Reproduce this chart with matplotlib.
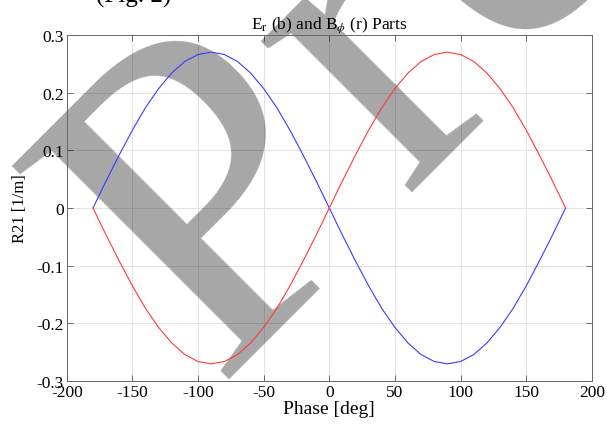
import matplotlib
matplotlib.use("Agg")
import matplotlib.pyplot as plt

# данные (шаг 10 градусов)
phase = [-180, -170, -160, -150, -140, -130, -120, -110, -100, -90,
         -80, -70, -60, -50, -40, -30, -20, -10, 0,
         10, 20, 30, 40, 50, 60, 70, 80, 90,
         100, 110, 120, 130, 140, 150, 160, 170, 180]
red_vals = [0.0, -0.047, -0.092, -0.135, -0.174, -0.207, -0.234, -0.254, -0.266, -0.270,
            -0.266, -0.254, -0.234, -0.207, -0.174, -0.135, -0.092, -0.047, 0.0,
            0.047, 0.092, 0.135, 0.174, 0.207, 0.234, 0.254, 0.266, 0.270,
            0.266, 0.254, 0.234, 0.207, 0.174, 0.135, 0.092, 0.047, 0.0]
blue_vals = [0.0, 0.047, 0.092, 0.135, 0.174, 0.207, 0.234, 0.254, 0.266, 0.270,
             0.266, 0.254, 0.234, 0.207, 0.174, 0.135, 0.092, 0.047, 0.0,
             -0.047, -0.092, -0.135, -0.174, -0.207, -0.234, -0.254, -0.266, -0.270,
             -0.266, -0.254, -0.234, -0.207, -0.174, -0.135, -0.092, -0.047, 0.0]
x_ticks = [-200, -150, -100, -50, 0, 50, 100, 150, 200]
y_ticks = [-0.3, -0.2, -0.1, 0, 0.1, 0.2, 0.3]
y_labels = ["-0.3", "-0.2", "-0.1", "0", "0.1", "0.2", "0.3"]

# буквы водяного знака и их точки привязки (пиксели)
wm_letters = ["P", "r", "e"]
wm_anchor = [(213, 381), (402, 192), (502, 60)]

plt.rcParams["font.family"] = ["Liberation Serif", "DejaVu Serif"]
plt.rcParams["mathtext.fontset"] = "stix"

W, H = 607, 427
fig = plt.figure(figsize=(W / 100, H / 100), dpi=100)
ax = fig.add_axes([0.110, 0.105, 0.865, 0.811])

ax.plot(phase, blue_vals, color="#3a3aff", linewidth=0.8, zorder=3)
ax.plot(phase, red_vals, color="#ff3a3a", linewidth=0.8, zorder=3)

ax.set_xlim(-200, 200)
ax.set_ylim(-0.3, 0.3)
ax.set_xticks(x_ticks)
ax.set_xticklabels([str(v) for v in x_ticks])
ax.set_yticks(y_ticks)
ax.set_yticklabels(y_labels)
ax.tick_params(direction="in", top=True, right=True, labelsize=12.5,
               color="#555555", length=4, width=0.6, pad=2)
ax.grid(True, color="#e3e3e3", linewidth=0.7)
ax.set_axisbelow(True)
for sp in ax.spines.values():
    sp.set_color("#666666")
    sp.set_linewidth(0.7)

ax.set_xlabel("Phase [deg]", fontsize=14, labelpad=0)
ax.set_ylabel("R21 [1/m]", fontsize=12, labelpad=6)
ax.set_title(r"E$_{\mathrm{r}}$ (b) and B$_{\phi}$ (r) Parts", fontsize=12.5, pad=5)

# обрезанная подпись сверху
fig.text(0.158, 1 - 3 / H, "(Fig. 2)", fontsize=18, ha="left", va="baseline")

# водяной знак, под линиями
for letter, (px, py) in zip(wm_letters, wm_anchor):
    ax.text(px / W, 1 - py / H, letter, transform=fig.transFigure,
            fontsize=335, rotation=45, rotation_mode="anchor",
            ha="left", va="baseline", color="black", alpha=0.35,
            clip_on=False, zorder=2)

fig.savefig("out.png", dpi=100)
